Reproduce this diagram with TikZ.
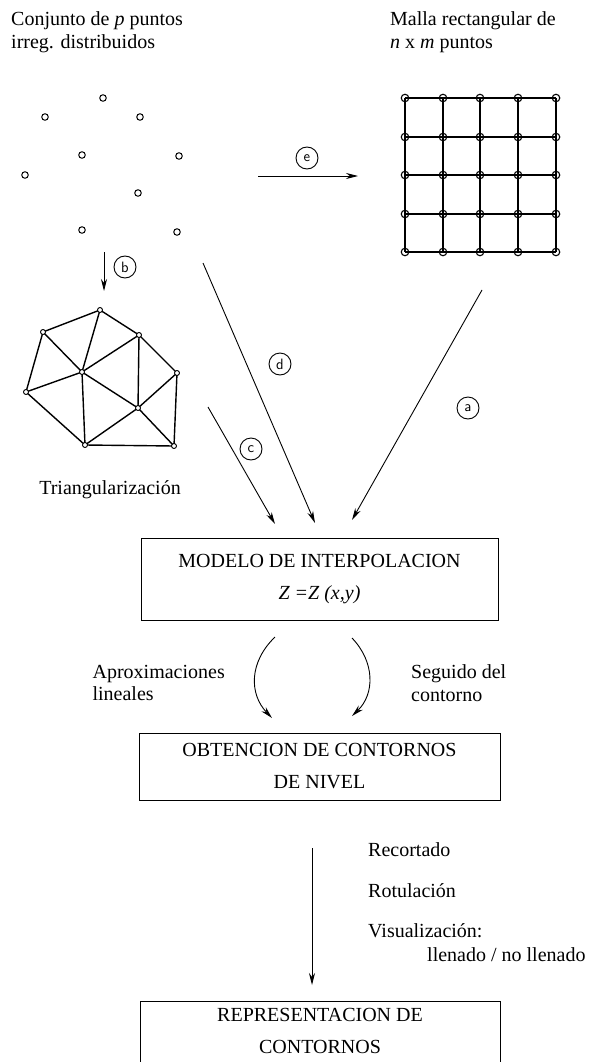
\documentclass[tikz,border=0pt]{standalone}
\usepackage{fontspec}
\setmainfont{Liberation Serif}
\usetikzlibrary{arrows.meta,calc}

\begin{document}
\begin{tikzpicture}[x=1pt,y=-1pt,
  every node/.style={inner sep=0pt, font=\fontsize{20}{22.5}\selectfont},
  arr/.style={line width=0.9pt, -{Stealth[length=12pt,width=6pt]}},
  dot/.style={circle, draw, line width=1pt, minimum size=6.5pt},
  gpt/.style={circle, draw, line width=1.1pt, minimum size=7.5pt},
  tpt/.style={circle, draw, fill=white, line width=0.9pt, minimum size=5pt},
  gridline/.style={line width=1.7pt},
  triline/.style={line width=1.4pt},
  tag/.style={circle, draw, line width=0.9pt, minimum size=22pt,
              font=\sffamily\fontsize{15}{15}\selectfont},
  stagebox/.style={draw, line width=0.9pt, align=center,
              font=\fontsize{20}{32}\selectfont},
  caption/.style={align=left, anchor=west}
]
\useasboundingbox (0,0) rectangle (603,1062);
\clip (0,0) rectangle (603,1062);

% titles
\node[caption] (t1) at (11,32) {Conjunto de \textit{p} puntos\\irreg. distribuidos};
\node[caption] (t2) at (390,32) {Malla rectangular de\\\textit{n} x \textit{m} puntos};

% irregularly spaced points
\foreach \n/\x/\y in {1/103/98, 2/45/117, 3/140/117, 4/82/155, 5/179/156,
                      6/25/175, 7/138/193, 8/82/230, 9/177/232}
  \node[dot] (p\n) at (\x,\y) {};

% regular grid
\foreach \i/\x in {1/405, 2/443, 3/480, 4/518, 5/556}
  \foreach \j/\y in {1/98, 2/137, 3/175, 4/214, 5/252}
    \coordinate (g\i\j) at (\x,\y);
\foreach \k in {1,...,5} {
  \draw[gridline] (g1\k) -- (g5\k);
  \draw[gridline] (g\k1) -- (g\k5);
}
\foreach \i in {1,...,5}
  \foreach \j in {1,...,5}
    \node[gpt] at (g\i\j) {};

% triangulation
\foreach \n/\x/\y in {1/100/310, 2/43/332, 3/139/335, 4/82/372, 5/177/373,
                      6/26/392, 7/138/408, 8/85/445, 9/174/446}
  \coordinate (v\n) at (\x,\y);
\foreach \a/\b in {1/2, 1/3, 1/4, 2/4, 2/6, 6/4, 6/8, 4/3, 4/8, 4/7,
                   3/7, 3/5, 5/7, 5/9, 7/8, 7/9, 8/9}
  \draw[triline] (v\a) -- (v\b);
\foreach \n in {1,...,9}
  \node[tpt] at (v\n) {};
\node (tri) at (110,490) {Triangularización};

% stage boxes
\node[stagebox, minimum width=357, minimum height=82] (model) at (319.5,579)
  {MODELO DE INTERPOLACION\\\textit{Z =Z (x,y)}};
\node[stagebox, minimum width=361, minimum height=67] (cont) at (319.5,766.5)
  {OBTENCION DE CONTORNOS\\DE NIVEL};
\node[stagebox, minimum width=360, minimum height=74, text depth=14pt] (rep) at (320,1038)
  {REPRESENTACION DE\\CONTORNOS};

% arrow end points
\coordinate (eS) at (258,176);  \coordinate (eE) at (358,176);
\coordinate (bS) at (104,252);  \coordinate (bE) at (104,291);
\coordinate (cS) at (208,407);  \coordinate (cE) at (275,524);
\coordinate (dS) at (203,263);  \coordinate (dE) at (315,523);
\coordinate (aS) at (482,290);  \coordinate (aE) at (352,520);

\draw[arr] (eS) -- (eE);
\draw[arr] (bS) -- (bE);
\draw[arr] (cS) -- (cE);
\draw[arr] (dS) -- (dE);
\draw[arr] (aS) -- (aE);

\node[tag] (la) at (468,408) {a};
\node[tag] (lb) at (125,267) {b};
\node[tag] (lc) at (251,449) {c};
\node[tag] (ld) at (280,364) {d};
\node[tag] (le) at (307,158) {e};

% contour extraction
\coordinate (lS) at (275,637);  \coordinate (lE) at (272,718);
\coordinate (rS) at (352,638);  \coordinate (rE) at (352,716);
\draw[arr] (lS) .. controls (249,662) and (249,694) .. (lE);
\draw[arr] (rS) .. controls (375,662) and (375,694) .. (rE);
\node[align=left, anchor=east] (apx) at (225,683) {Aproximaciones\\lineales};
\node[caption] (seg) at (411,683) {Seguido del\\contorno};

% final stage
\coordinate (fS) at (312,848);  \coordinate (fE) at (312,985);
\draw[arr] (fS) -- (fE);
\node[caption] (s1) at (368,850) {Recortado};
\node[caption] (s2) at (368,891) {Rotulación};
\node[caption] (s3) at (368,931) {Visualización:};
\node[caption] (s4) at (427,955) {llenado / no llenado};
\end{tikzpicture}
\end{document}
